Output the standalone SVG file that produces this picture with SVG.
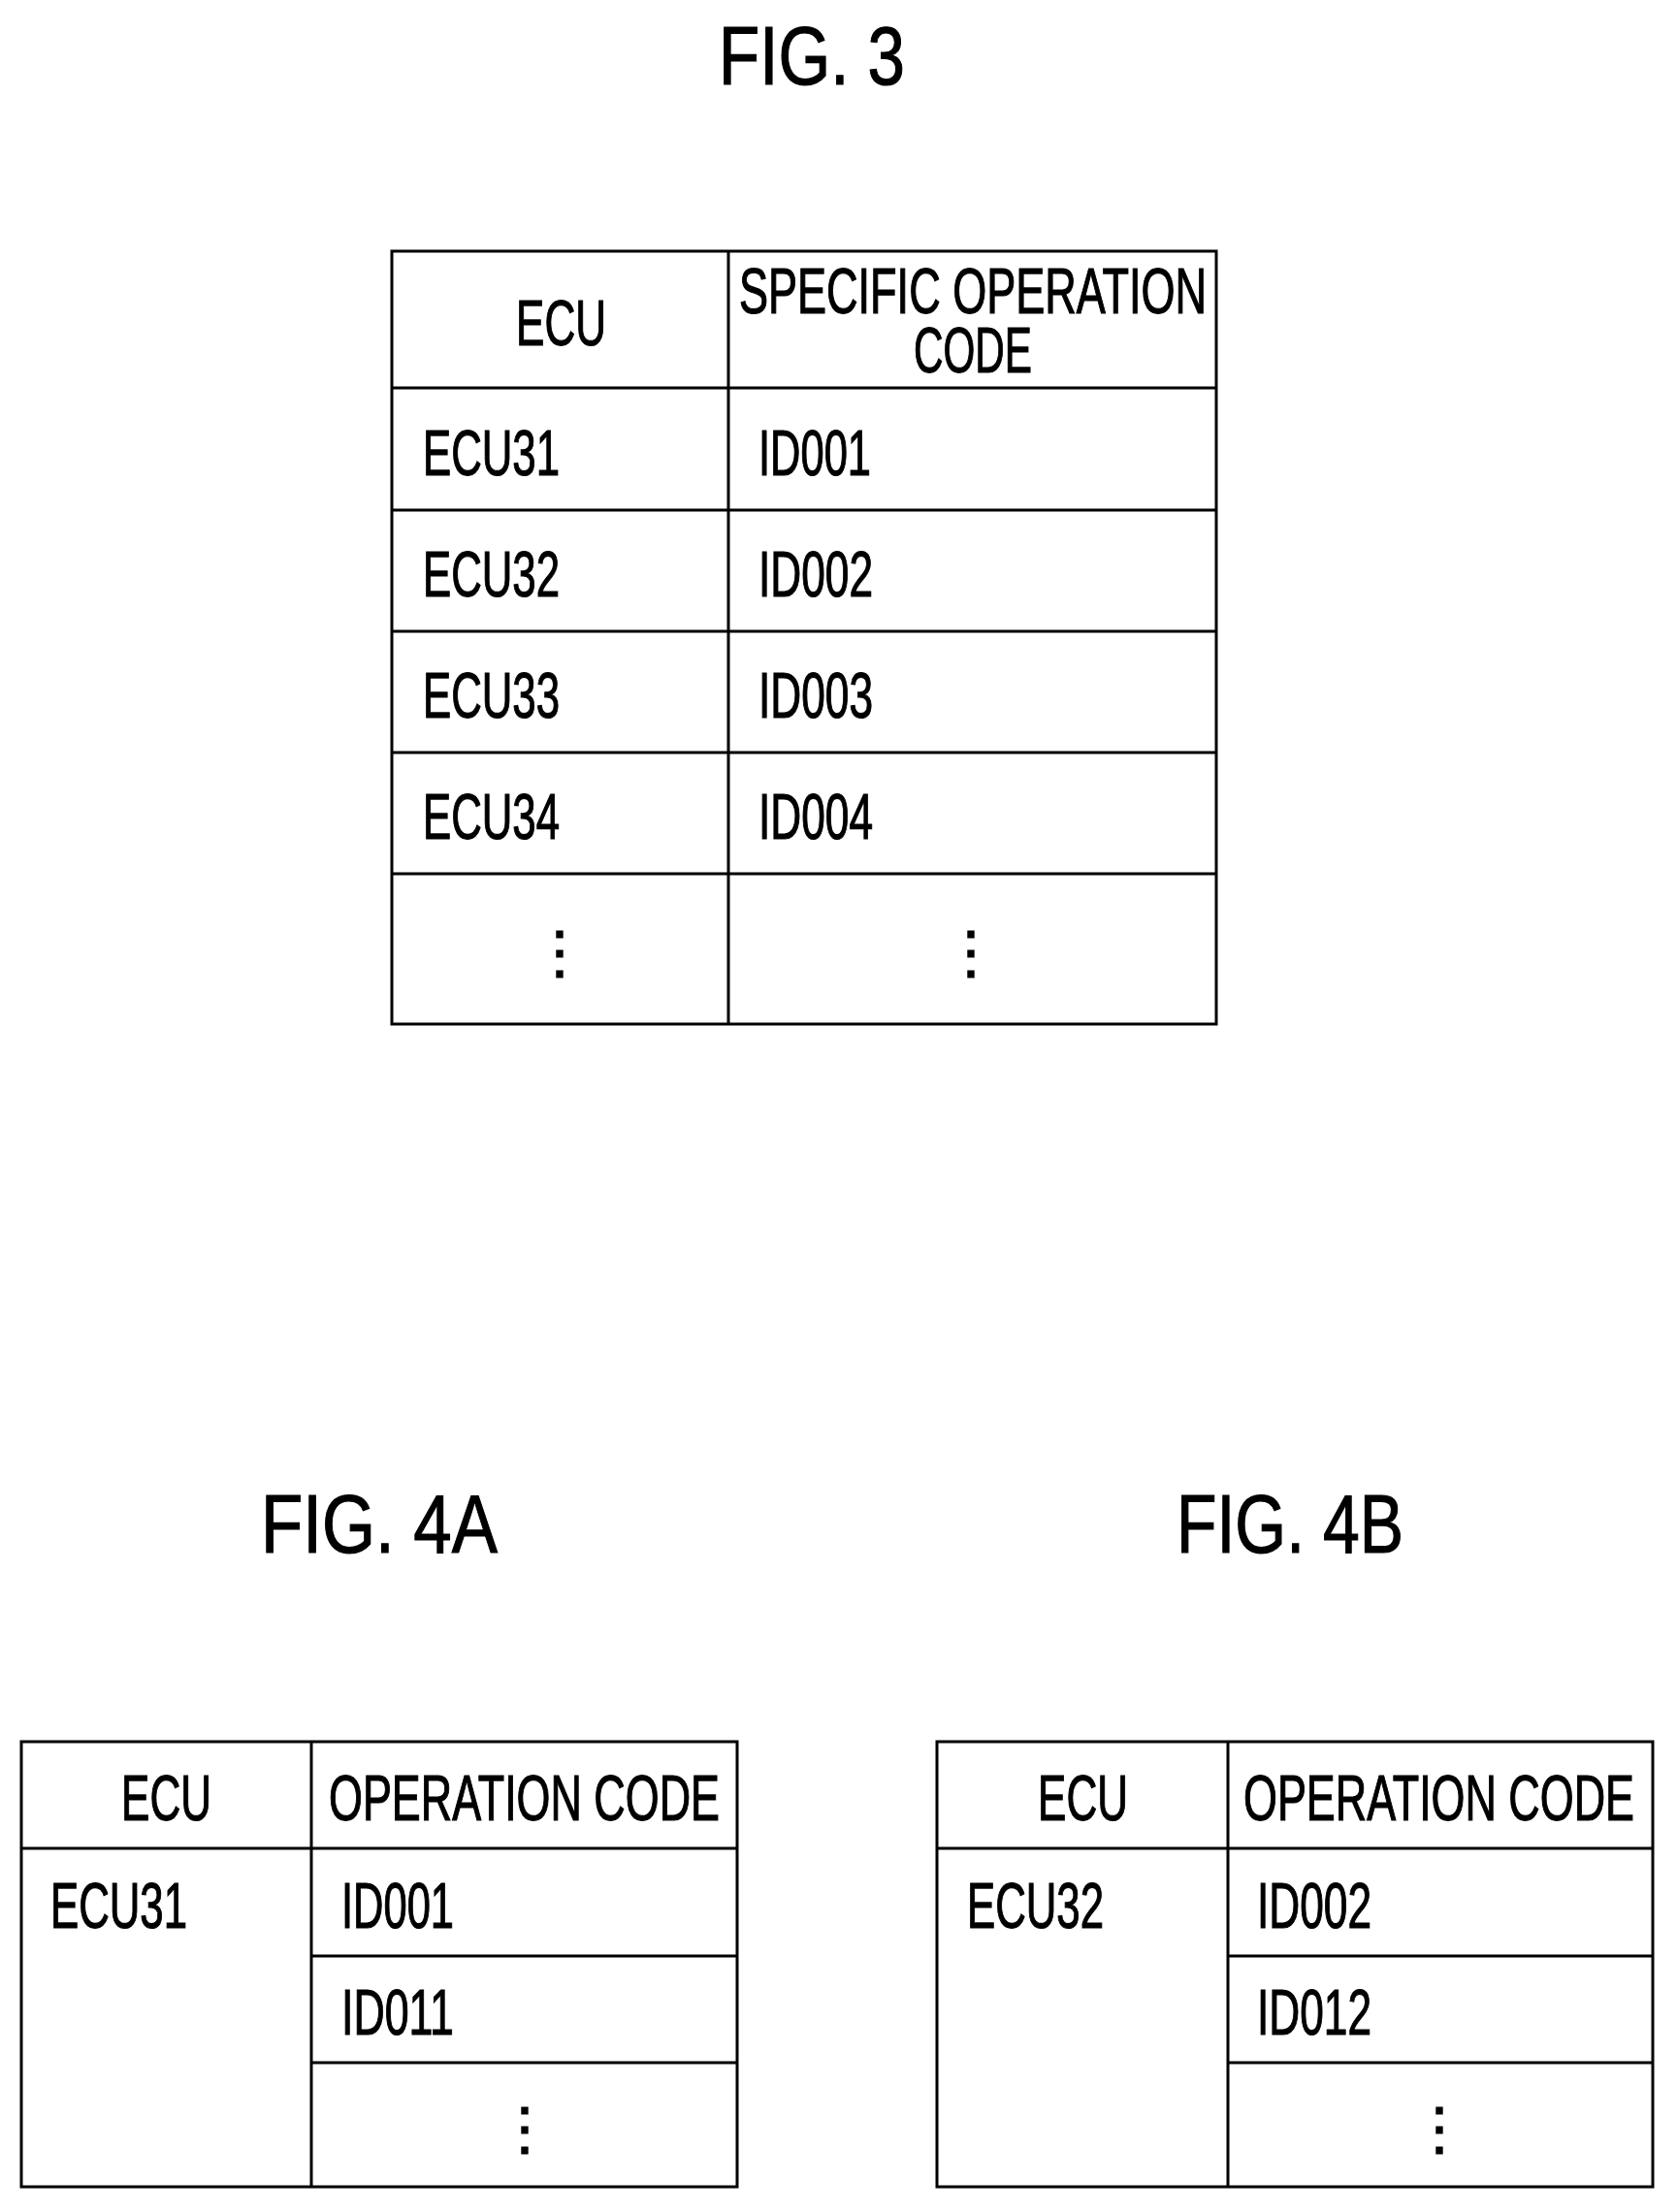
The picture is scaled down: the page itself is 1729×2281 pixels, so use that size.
<svg xmlns="http://www.w3.org/2000/svg" width="1729" height="2281" viewBox="0 0 1729 2281">
<style>
.ln{stroke:#000;stroke-width:3;fill:none}
text{font-family:"Liberation Sans",Arial,sans-serif;fill:#000;stroke:#000;stroke-width:1.2}
.t{font-size:85px}
.c{font-size:66px}
.d{font-size:60px;text-anchor:middle}
</style>
<rect width="1729" height="2281" fill="#fff"/>
<text class="t" x="741" y="87" textLength="192" lengthAdjust="spacingAndGlyphs">FIG. 3</text>
<text class="t" x="269" y="1601" textLength="244" lengthAdjust="spacingAndGlyphs">FIG. 4A</text>
<text class="t" x="1213" y="1601" textLength="234" lengthAdjust="spacingAndGlyphs">FIG. 4B</text>
<g id="table3">
<rect class="ln" x="404" y="259" width="850" height="797"/>
<path class="ln" d="M751 259V1056M404 400H1254M404 526H1254M404 651H1254M404 776H1254M404 901H1254"/>
<text class="c" x="532" y="356" textLength="93" lengthAdjust="spacingAndGlyphs">ECU</text>
<text class="c" x="762" y="323" textLength="482" lengthAdjust="spacingAndGlyphs">SPECIFIC OPERATION</text>
<text class="c" x="942" y="384" textLength="122" lengthAdjust="spacingAndGlyphs">CODE</text>
<text class="c" x="436" y="490" textLength="141" lengthAdjust="spacingAndGlyphs">ECU31</text>
<text class="c" x="436" y="615" textLength="141" lengthAdjust="spacingAndGlyphs">ECU32</text>
<text class="c" x="436" y="740" textLength="141" lengthAdjust="spacingAndGlyphs">ECU33</text>
<text class="c" x="436" y="865" textLength="141" lengthAdjust="spacingAndGlyphs">ECU34</text>
<text class="c" x="782" y="490" textLength="116" lengthAdjust="spacingAndGlyphs">ID001</text>
<text class="c" x="782" y="615" textLength="118" lengthAdjust="spacingAndGlyphs">ID002</text>
<text class="c" x="782" y="740" textLength="118" lengthAdjust="spacingAndGlyphs">ID003</text>
<text class="c" x="782" y="865" textLength="118" lengthAdjust="spacingAndGlyphs">ID004</text>
<text class="d" x="577" y="1003">⋮</text>
<text class="d" x="1001" y="1003">⋮</text>
</g>
<g id="table4a">
<rect class="ln" x="22" y="1796" width="738" height="459"/>
<path class="ln" d="M321 1796V2255M22 1906H760M321 2017H760M321 2127H760"/>
<text class="c" x="125" y="1877" textLength="93" lengthAdjust="spacingAndGlyphs">ECU</text>
<text class="c" x="339" y="1877" textLength="403" lengthAdjust="spacingAndGlyphs">OPERATION CODE</text>
<text class="c" x="52" y="1988" textLength="141" lengthAdjust="spacingAndGlyphs">ECU31</text>
<text class="c" x="352" y="1988" textLength="116" lengthAdjust="spacingAndGlyphs">ID001</text>
<text class="c" x="352" y="2098" textLength="116" lengthAdjust="spacingAndGlyphs">ID011</text>
<text class="d" x="541" y="2216">⋮</text>
</g>
<g id="table4b">
<rect class="ln" x="966" y="1796" width="738" height="459"/>
<path class="ln" d="M1266 1796V2255M966 1906H1704M1266 2017H1704M1266 2127H1704"/>
<text class="c" x="1070" y="1877" textLength="93" lengthAdjust="spacingAndGlyphs">ECU</text>
<text class="c" x="1282" y="1877" textLength="403" lengthAdjust="spacingAndGlyphs">OPERATION CODE</text>
<text class="c" x="997" y="1988" textLength="141" lengthAdjust="spacingAndGlyphs">ECU32</text>
<text class="c" x="1296" y="1988" textLength="118" lengthAdjust="spacingAndGlyphs">ID002</text>
<text class="c" x="1296" y="2098" textLength="118" lengthAdjust="spacingAndGlyphs">ID012</text>
<text class="d" x="1484" y="2216">⋮</text>
</g>
<g id="connectors"/>
</svg>
